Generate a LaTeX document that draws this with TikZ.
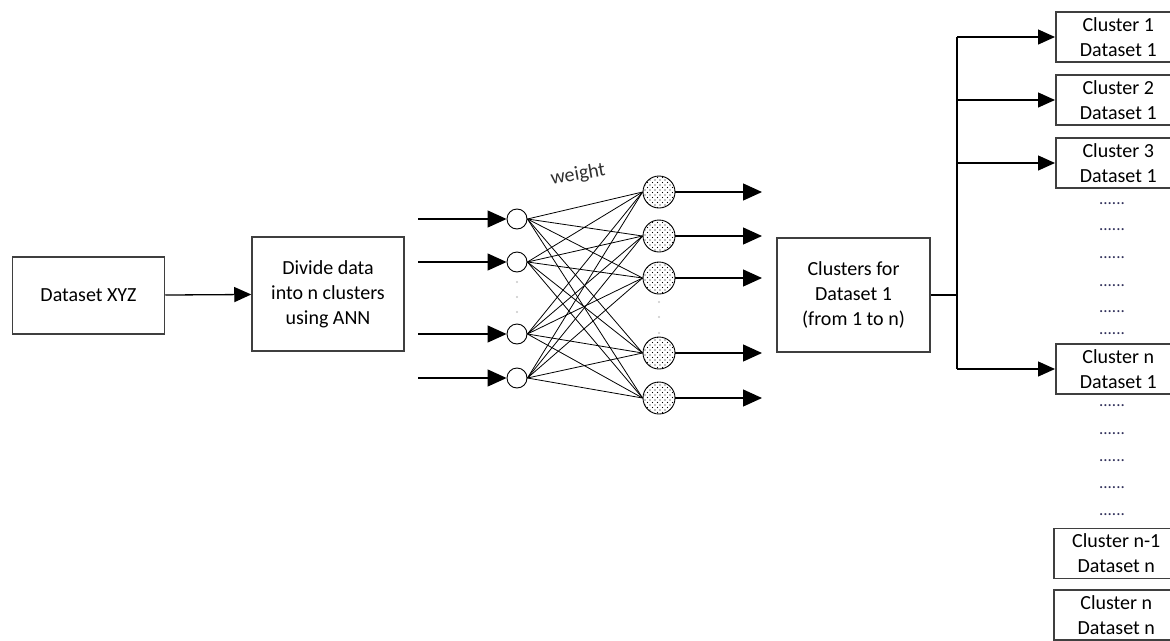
\documentclass[tikz,border=0pt]{standalone}
\usepackage{fontspec}
\setmainfont{Carlito}
\usepackage{xcolor}
\usepackage{tikz}
\usetikzlibrary{arrows.meta,patterns}
\definecolor{boxline}{HTML}{3F3F3F}
\definecolor{faint}{HTML}{C8C8C8}
\definecolor{label}{HTML}{303030}
\definecolor{dotink}{HTML}{30305A}
\pgfdeclarepatternformonly{nndots}{\pgfqpoint{-1pt}{-1pt}}{\pgfqpoint{6pt}{6pt}}{\pgfqpoint{5pt}{5pt}}{%
  \pgfpathcircle{\pgfpointorigin}{0.6pt}%
  \pgfpathcircle{\pgfqpoint{2.5pt}{2.5pt}}{0.6pt}%
  \pgfusepath{fill}}
\tikzset{
  box/.style={draw=boxline, line width=1.5pt, align=center, inner sep=0pt, font=\fontsize{20}{25}\selectfont},
  cbox/.style={box, minimum width=125pt, minimum height=50pt, anchor=west},
  dotrow/.style={font=\fontsize{17}{17}\selectfont, text=dotink, inner sep=0pt},
  inneuron/.style={circle, draw, fill=white, line width=0.9pt, minimum size=20pt, inner sep=0pt},
  outneuron/.style={circle, draw, line width=0.9pt, minimum size=32pt, inner sep=0pt, preaction={fill=white}, pattern=nndots},
  conn/.style={draw, line width=1.3pt, -{Triangle[length=17pt,width=15pt]}},
  nnarrow/.style={draw, line width=1.3pt, -{Triangle[length=19pt,width=17pt]}},
  wire/.style={draw, line width=0.8pt},
  trunk/.style={draw, line width=1.6pt}
}

\begin{document}
\begin{tikzpicture}[x=1pt,y=-1pt]
  \useasboundingbox (0,0) rectangle (1170,640);

  \node[box, minimum width=152pt, minimum height=77pt] (xyz) at (88.5,295.5) {Dataset XYZ};
  \node[box, minimum width=152pt, minimum height=114pt] (divide) at (328,294) {Divide data\\into n clusters\\using ANN};
  \node[box, minimum width=153pt, minimum height=114pt] (clus) at (853.5,295) {Clusters for\\Dataset 1\\(from 1 to n)};
  \draw[conn] (xyz) -- (divide);

  % input layer
  \foreach \n/\y in {1/219,2/262,3/334,4/378} {
    \node[inneuron] (in\n) at (517,\y) {};
    \coordinate (src\n) at (418,\y);
    \draw[nnarrow] (src\n) -- (in\n.west);
  }
  % output layer
  \foreach \n/\y in {1/192,2/236,3/278,4/353,5/398} {
    \node[outneuron] (out\n) at (659,\y) {};
    \coordinate (dst\n) at (762,\y);
    \draw[nnarrow] (out\n.east) -- (dst\n);
  }
  \foreach \i in {1,...,4}
    \foreach \o in {1,...,5}
      \draw[wire] (in\i.east) -- (out\o.west);
  \foreach \y in {282,297,312} \fill[faint] (517,\y) circle (1.2pt);
  \foreach \y in {302,317,333} \fill[faint] (659,\y) circle (1.2pt);

  \node[text=label, font=\fontsize{20}{20}\selectfont, rotate=10] (weight) at (578,175) {weight};

  % clusters of dataset 1 and dataset n
  \node[cbox] (c1) at (1055,37) {Cluster 1\\Dataset 1};
  \node[cbox] (c2) at (1055,100) {Cluster 2\\Dataset 1};
  \node[cbox] (c3) at (1055,163) {Cluster 3\\Dataset 1};
  \node[cbox] (cn) at (1055,369) {Cluster n\\Dataset 1};
  \node[cbox] (dn1) at (1053,553.5) {Cluster n-1\\Dataset n};
  \node[cbox] (dnn) at (1053,615) {Cluster n\\Dataset n};
  \foreach \k/\y in {1/204,2/230,3/258,4/286,5/312,6/334,7/406,8/434,9/461,10/488,11/515}
    \node[dotrow] (gap\k) at (1112,\y) {......};

  \coordinate (split) at (957,295);
  \draw[trunk] (clus.east) -- (split);
  \draw[trunk] (split |- c1.west) -- (split |- cn.west);
  \foreach \c in {c1,c2,c3,cn}
    \draw[conn] (split |- \c.west) -- (\c.west);
\end{tikzpicture}
\end{document}
